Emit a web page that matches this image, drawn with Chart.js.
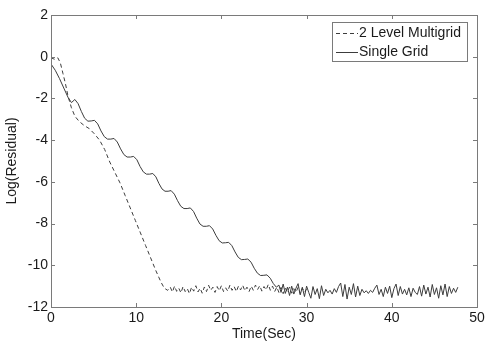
<!DOCTYPE html>
<html>
<head>
<meta charset="utf-8">
<script src="https://cdn.jsdelivr.net/npm/chart.js@4/dist/chart.umd.min.js"></script>
<style>
  body { margin: 0; background: #fff; }
  canvas { display: block; }
</style>
</head>
<body>
<canvas id="residualChart" width="489" height="343"></canvas>
<script>
// values
const multiTime = [0, 0.4, 0.8, 1.1, 1.4, 1.7, 2.0, 2.4, 2.8, 3.3, 3.9, 4.5, 5.1, 5.7, 6.3, 6.9, 7.5, 8.1, 8.7, 9.3, 9.9, 10.5, 11.1, 11.7, 12.3, 12.9, 13.3, 13.7,
    14, 14.25, 14.5, 14.75, 15, 15.25, 15.5, 15.75, 16, 16.25, 16.5, 16.75, 17, 17.25, 17.5, 17.75, 18, 18.25, 18.5, 18.75,
    19, 19.25, 19.5, 19.75, 20, 20.25, 20.5, 20.75, 21, 21.25, 21.5, 21.75, 22, 22.25, 22.5, 22.75, 23, 23.25, 23.5, 23.75,
    24, 24.25, 24.5, 24.75, 25, 25.25, 25.5, 25.75, 26, 26.25, 26.5, 26.75, 27, 27.25, 27.5, 27.75, 28, 28.25, 28.5, 28.75,
    29, 29.25, 29.5, 29.75, 30];
const multiResidual = [-0.05, -0.12, -0.05, -0.3, -0.8, -1.3, -1.9, -2.45, -2.85, -3.1, -3.3, -3.45, -3.7, -4.0, -4.45, -5.05, -5.55, -6.05, -6.65, -7.25, -7.85, -8.45, -9.05, -9.65, -10.25, -10.8, -11.1, -11.2,
    -11.05, -11.28, -11.0, -11.25, -11.1, -11.32, -11.02, -11.26, -11.12, -11.36,
    -11.05, -11.24, -10.98, -11.28, -11.1, -11.34, -11.04, -11.26, -10.96, -11.2,
    -11.05, -11.3, -11.02, -11.22, -10.98, -11.26, -11.08, -11.24, -10.95, -11.2,
    -11.02, -11.26, -11.0, -11.18, -10.96, -11.22, -11.05, -11.26, -11.0, -11.2,
    -10.95, -11.16, -10.98, -11.24, -11.02, -11.18, -10.92, -11.2, -11.0, -11.26,
    -11.05, -11.3, -11.06, -11.36, -11.1, -11.28, -11.04, -11.34, -11.12, -11.3,
    -11.06, -11.36, -11.1, -11.28, -11.15];

const singleTime = [0, 0.5, 1.0, 1.5, 2.0, 2.4,
    2.8, 3.18, 3.57, 3.95, 4.33, 4.72,
    5.1, 5.48, 5.87, 6.25, 6.63, 7.02,
    7.4, 7.78, 8.17, 8.55, 8.93, 9.32,
    9.7, 10.08, 10.45, 10.83, 11.2, 11.58,
    11.95, 12.31, 12.67, 13.03, 13.38, 13.74,
    14.1, 14.48, 14.85, 15.23, 15.6, 15.98,
    16.35, 16.73, 17.1, 17.48, 17.85, 18.23,
    18.6, 18.98, 19.35, 19.73, 20.1, 20.48,
    20.85, 21.23, 21.6, 21.98, 22.35, 22.73,
    23.1, 23.48, 23.85, 24.23, 24.6, 24.98,
    25.35, 25.73, 26.1, 26.45,
    26.75, 27, 27.25, 27.5, 27.75, 28, 28.25, 28.5, 28.75, 29, 29.25, 29.5, 29.75, 30, 30.25, 30.5, 30.75,
    31, 31.25, 31.5, 31.75, 32, 32.25, 32.5, 32.75, 33, 33.25, 33.5, 33.75, 34, 34.25, 34.5, 34.75,
    35, 35.25, 35.5, 35.75, 36, 36.25, 36.5, 36.75, 37, 37.25, 37.5, 37.75, 38, 38.25, 38.5, 38.75,
    39, 39.25, 39.5, 39.75, 40, 40.25, 40.5, 40.75, 41, 41.25, 41.5, 41.75, 42, 42.25, 42.5, 42.75,
    43, 43.25, 43.5, 43.75, 44, 44.25, 44.5, 44.75, 45, 45.25, 45.5, 45.75, 46, 46.25, 46.5, 46.75,
    47, 47.25, 47.5, 47.75];
const singleResidual = [-0.35, -0.65, -1.05, -1.5, -1.95, -2.2,
    -2.05, -2.25, -2.63, -2.95, -3.09, -3.08,
    -3.05, -3.22, -3.56, -3.83, -3.95, -3.95,
    -3.92, -4.09, -4.42, -4.69, -4.81, -4.81,
    -4.78, -4.94, -5.26, -5.52, -5.63, -5.63,
    -5.6, -5.76, -6.08, -6.34, -6.45, -6.45,
    -6.42, -6.59, -6.9, -7.17, -7.28, -7.28,
    -7.25, -7.42, -7.74, -8.02, -8.13, -8.13,
    -8.1, -8.26, -8.56, -8.82, -8.93, -8.92,
    -8.9, -9.06, -9.36, -9.62, -9.73, -9.72,
    -9.7, -9.85, -10.14, -10.38, -10.49, -10.48,
    -10.46, -10.62, -10.88, -11.05,
    -10.95, -11.3, -10.9, -11.35, -11.05, -11.45, -11.0, -11.38, -11.1, -10.88,
    -11.42, -11.05, -11.5, -11.0, -11.3, -11.58, -11.02, -11.4, -11.12, -11.6,
    -10.98, -11.45, -11.15, -11.32, -11.2, -11.38, -11.12, -11.3, -11.02, -10.85,
    -11.5, -10.92, -11.62, -11.05, -11.4, -10.88, -11.52, -11.0, -11.45, -11.15,
    -11.32, -11.22, -11.35, -11.2, -11.3, -11.1, -10.95, -11.4, -11.15, -11.5,
    -11.05, -11.35, -11.0, -11.55, -11.12, -10.9, -11.45, -11.02, -11.38, -11.15,
    -11.42, -11.08, -11.5, -11.1, -11.3, -11.4, -11.02, -11.48, -10.95, -11.38,
    -11.05, -11.52, -10.92, -11.4, -11.08, -11.58, -10.98, -11.42, -10.9, -11.5,
    -11.02, -11.35, -11.1, -11.3, -11.05];

const xTicks = [0, 10, 20, 30, 40, 50];
const yTicks = [2, 0, -2, -4, -6, -8, -10, -12];
const seriesNames = ["2 Level Multigrid", "Single Grid"];

const axisColor = "#7a7a7a";
const lineColor = "#3c3c3c";
const textColor = "#1a1a1a";
const fontFamily = "'Liberation Sans', Arial, sans-serif";

function toPoints(xs, ys) {
    return xs.map((x, i) => ({ x: x, y: ys[i] }));
}

// matlab style box, inward ticks and the legend
const matlabFrame = {
    id: "matlabFrame",
    afterDraw(chart) {
        const c = chart.ctx;
        const a = chart.chartArea;
        const xs = chart.scales.x;
        const ys = chart.scales.y;
        c.save();
        c.strokeStyle = axisColor;
        c.lineWidth = 1;
        c.strokeRect(a.left + 0.5, a.top + 0.5, a.right - a.left, a.bottom - a.top);
        c.beginPath();
        xTicks.forEach(v => {
            const px = Math.round(xs.getPixelForValue(v)) + 0.5;
            c.moveTo(px, a.bottom); c.lineTo(px, a.bottom - 4);
            c.moveTo(px, a.top); c.lineTo(px, a.top + 4);
        });
        yTicks.forEach(v => {
            const py = Math.round(ys.getPixelForValue(v)) + 0.5;
            c.moveTo(a.left, py); c.lineTo(a.left + 4, py);
            c.moveTo(a.right, py); c.lineTo(a.right - 4, py);
        });
        c.stroke();

        // legend
        const lx = 332, ly = 22, lw = 135, lh = 39;
        c.fillStyle = "#fff";
        c.fillRect(lx, ly, lw, lh);
        c.strokeStyle = axisColor;
        c.strokeRect(lx + 0.5, ly + 0.5, lw, lh);
        c.strokeStyle = lineColor;
        c.setLineDash([4, 3]);
        c.beginPath(); c.moveTo(lx + 4, ly + 11.5); c.lineTo(lx + 26, ly + 11.5); c.stroke();
        c.setLineDash([]);
        c.beginPath(); c.moveTo(lx + 4, ly + 30.5); c.lineTo(lx + 26, ly + 30.5); c.stroke();
        c.fillStyle = textColor;
        c.font = "14px " + fontFamily;
        c.textBaseline = "middle";
        c.fillText(seriesNames[0], lx + 27, ly + 11);
        c.fillText(seriesNames[1], lx + 27, ly + 30);
        c.restore();
    }
};

const ctx = document.getElementById("residualChart").getContext("2d");
const residualChart = new Chart(ctx, {
    type: "line",
    data: {
        datasets: [{
            label: seriesNames[0],
            data: toPoints(multiTime, multiResidual),
            borderColor: lineColor,
            borderWidth: 1,
            borderDash: [4, 3],
            pointRadius: 0,
            tension: 0
        }, {
            label: seriesNames[1],
            data: toPoints(singleTime, singleResidual),
            borderColor: lineColor,
            borderWidth: 1,
            pointRadius: 0,
            tension: 0
        }]
    },
    options: {
        responsive: false,
        animation: false,
        layout: { padding: { top: 15, right: 12, left: 0, bottom: 0 } },
        plugins: {
            legend: { display: false },
            tooltip: { enabled: false }
        },
        scales: {
            x: {
                type: "linear",
                min: 0,
                max: 50,
                afterBuildTicks: s => { s.ticks = xTicks.map(v => ({ value: v })); },
                ticks: { color: textColor, font: { family: fontFamily, size: 14 }, padding: 3, autoSkip: false, maxRotation: 0 },
                grid: { display: false, drawTicks: false },
                border: { display: false },
                title: { display: true, text: "Time(Sec)", color: textColor, font: { family: fontFamily, size: 14 }, padding: { top: 0, bottom: 0 } },
                afterFit: s => { s.height = 36; }
            },
            y: {
                type: "linear",
                min: -12,
                max: 2,
                afterBuildTicks: s => { s.ticks = yTicks.slice().reverse().map(v => ({ value: v })); },
                ticks: { color: textColor, font: { family: fontFamily, size: 14 }, padding: 3, autoSkip: false },
                grid: { display: false, drawTicks: false },
                border: { display: false },
                title: { display: true, text: "Log(Residual)", color: textColor, font: { family: fontFamily, size: 14 }, padding: { top: 4, bottom: 0 } },
                afterFit: s => { s.width = 51; }
            }
        }
    },
    plugins: [matlabFrame]
});
</script>
</body>
</html>
